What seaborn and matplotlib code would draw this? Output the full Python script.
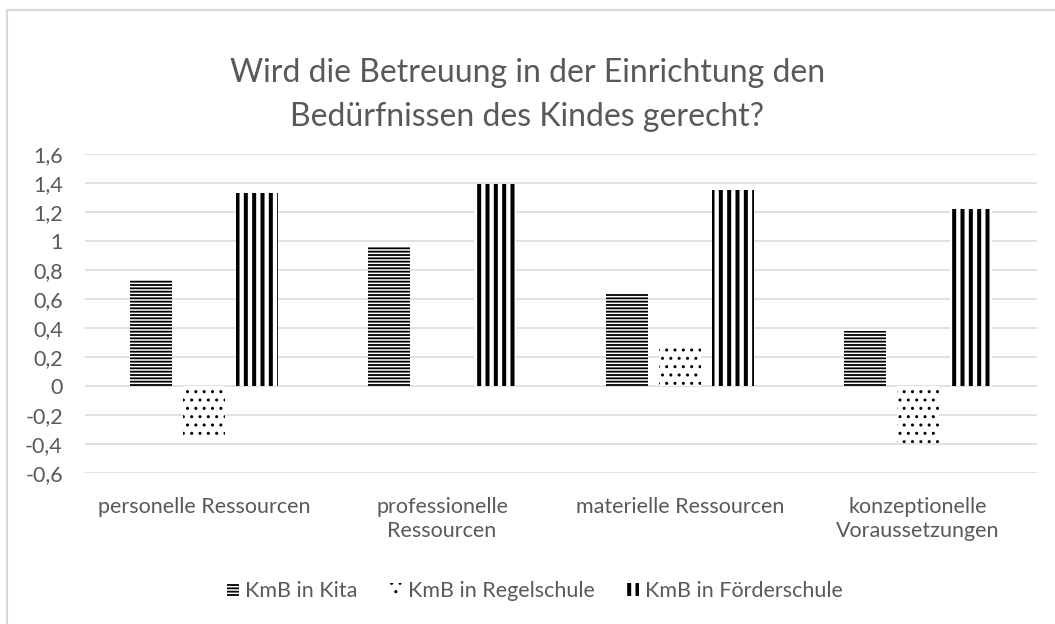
import matplotlib
matplotlib.use('Agg')
import matplotlib.pyplot as plt
import pandas as pd
import seaborn as sns
from matplotlib.patches import Rectangle
from matplotlib.ticker import FuncFormatter

# Data
categories = ['personelle Ressourcen', 'professionelle\nRessourcen',
              'materielle Ressourcen', 'konzeptionelle\nVoraussetzungen']
series = ['KmB in Kita', 'KmB in Regelschule', 'KmB in Förderschule']
kita = [0.73, 0.96, 0.64, 0.38]
regelschule = [-0.34, 0.0, 0.26, -0.39]
foerderschule = [1.33, 1.39, 1.35, 1.22]
y_ticks = [-0.6, -0.4, -0.2, 0, 0.2, 0.4, 0.6, 0.8, 1, 1.2, 1.4, 1.6]

title = 'Wird die Betreuung in der Einrichtung den\nBedürfnissen des Kindes gerecht?'

df = pd.DataFrame({
    'Kategorie': categories * 3,
    'Gruppe': [s for s in series for _ in categories],
    'Wert': kita + regelschule + foerderschule,
})

sns.set_style('white')
plt.rcParams['font.family'] = ['Lato', 'DejaVu Sans']
text_gray = '#595959'
grid_gray = '#d9d9d9'

fig = plt.figure(figsize=(10.55, 6.24), dpi=100)
ax = fig.add_axes([85 / 1055, 1 - 473 / 624, (1037 - 85) / 1055, (473 - 154) / 624])

sns.barplot(data=df, x='Kategorie', y='Wert', hue='Gruppe', order=categories,
            hue_order=series, palette=['white'] * 3, width=0.668, gap=0.21,
            errorbar=None, legend=False, ax=ax)

# hatch pattern and line width per series
hatch_styles = [('-----', 1.3), ('..', 1.0), ('||', 2.9)]
for container, (hatch, hlw) in zip(ax.containers, hatch_styles):
    for bar in container:
        bar.set_hatch(hatch)
        bar.set_edgecolor('black')
        bar.set_linewidth(0)
        if hasattr(bar, 'set_hatch_linewidth'):
            bar.set_hatch_linewidth(hlw)

ax.set_ylim(-0.6, 1.6)
ax.set_xlim(-0.5, 3.5)
ax.set_yticks(y_ticks)
ax.yaxis.set_major_formatter(FuncFormatter(lambda v, _: f'{v:g}'.replace('.', ',')))
ax.grid(axis='y', color=grid_gray, linewidth=1.1)
ax.set_axisbelow(True)
for side in ax.spines.values():
    side.set_visible(False)
ax.tick_params(axis='y', length=0, pad=16, labelsize=15.5, labelcolor=text_gray)
ax.tick_params(axis='x', length=0, pad=17, labelsize=15.5, labelcolor=text_gray)
for lbl in ax.get_xticklabels():
    lbl.set_linespacing(1.3)
ax.set_xlabel('')
ax.set_ylabel('')

fig.text(0.5, 1 - 95 / 624, title, ha='center', va='center', fontsize=23,
         color=text_gray, linespacing=1.6)

leg = ax.legend(handles=list(ax.containers), labels=series, loc='center',
                bbox_to_anchor=(535 / 1055, 1 - 591 / 624), bbox_transform=fig.transFigure,
                ncol=3, frameon=False, fontsize=15.5, handlelength=0.55,
                handleheight=0.6, handletextpad=0.3, columnspacing=1.5)
for t in leg.get_texts():
    t.set_color(text_gray)
for handle, (hatch, hlw) in zip(leg.legend_handles, hatch_styles):
    handle.set_hatch(hatch)
    handle.set_linewidth(0)
    if hasattr(handle, 'set_hatch_linewidth'):
        handle.set_hatch_linewidth(hlw)

# light outer frame of the chart area
fig.patches.append(Rectangle((7 / 1055, -0.05), 1.1, 1 - 10 / 624 + 0.05,
                             transform=fig.transFigure, fill=False,
                             edgecolor=grid_gray, linewidth=1.5))

fig.savefig('out.png', dpi=100)
